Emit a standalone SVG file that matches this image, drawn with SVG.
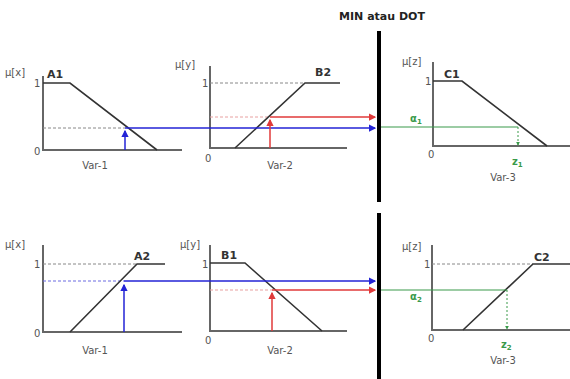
<svg xmlns="http://www.w3.org/2000/svg" width="570" height="379" viewBox="0 0 570 379">
<defs>
<marker id="ab" viewBox="0 0 6 6" refX="5" refY="3" markerWidth="5" markerHeight="5" orient="auto"><path d="M0,0 L6,3 L0,6 Z" fill="#2323d6"/></marker>
<marker id="ar" viewBox="0 0 6 6" refX="5" refY="3" markerWidth="5" markerHeight="5" orient="auto"><path d="M0,0 L6,3 L0,6 Z" fill="#e03a3a"/></marker>
<marker id="ag" viewBox="0 0 6 6" refX="5" refY="3" markerWidth="4" markerHeight="4" orient="auto"><path d="M0,0 L6,3 L0,6 Z" fill="#3a9a4a"/></marker>
</defs>
<style>
.ax{stroke:#666;stroke-width:2;fill:none}
.mf{stroke:#333;stroke-width:1.6;fill:none}
.dg{stroke:#888;stroke-width:1;stroke-dasharray:3,2;fill:none}
.bl{stroke:#2323d6;stroke-width:1.5;fill:none}
.rd{stroke:#e03a3a;stroke-width:1.5;fill:none}
.gr{stroke:#3a9a4a;stroke-width:1.2;fill:none}
.gd{stroke:#3a9a4a;stroke-width:1;stroke-dasharray:2,2;fill:none}
.bar{stroke:#000;stroke-width:4}
text{font-family:"DejaVu Sans",Verdana,sans-serif;font-size:10px;fill:#555}
.nm{font-weight:bold;fill:#333;font-size:11px}
.g{fill:#3a9a4a;font-weight:bold}
.t{font-weight:bold;fill:#222;font-size:11px}
</style>
<rect width="570" height="379" fill="#fff"/>
<text class="t" x="382" y="20" text-anchor="middle">MIN atau DOT</text>
<g id="bars">
<line class="bar" x1="379" y1="31" x2="379" y2="202"/>
<line class="bar" x1="379" y1="213" x2="379" y2="379"/>
</g>
<g id="A1">
<polyline class="ax" points="43,76 43,150 182,150"/>
<line class="dg" x1="43" y1="128" x2="125" y2="128"/>
<polyline class="mf" points="43,83 70,83 157,150"/>
<text x="5" y="76">μ[x]</text><text x="34" y="87">1</text><text x="34" y="155">0</text>
<text class="nm" x="47" y="78">A1</text><text x="95" y="169" text-anchor="middle">Var-1</text>
</g>
<g id="B2">
<polyline class="ax" points="210,66 210,148 347,148"/>
<line class="dg" x1="210" y1="83" x2="305" y2="83"/>
<line class="dg" x1="210" y1="117" x2="268" y2="117" style="stroke:#e8a0a0"/>
<polyline class="mf" points="235,148 305,83 340,83"/>
<text x="175" y="68">μ[y]</text><text x="202" y="87">1</text><text x="205" y="162">0</text>
<text class="nm" x="315" y="76">B2</text><text x="280" y="169" text-anchor="middle">Var-2</text>
</g>
<g id="C1">
<polyline class="ax" points="433,62 433,146 570,146"/>
<polyline class="mf" points="433,81 462,81 547,146"/>
<text x="402" y="65">μ[z]</text><text x="425" y="85">1</text><text x="428" y="158">0</text>
<text class="nm" x="444" y="78">C1</text>
<text class="g" x="410" y="122">α<tspan font-size="7" dy="2">1</tspan></text>
<text class="g" x="512" y="165">z<tspan font-size="7" dy="2">1</tspan></text>
<text x="503" y="181" text-anchor="middle">Var-3</text>
</g>
<g id="A2">
<polyline class="ax" points="43,245 43,332 182,332"/>
<line class="dg" x1="43" y1="264" x2="137" y2="264"/>
<line class="dg" x1="43" y1="281" x2="124" y2="281" style="stroke:#6a6ae0"/>
<polyline class="mf" points="70,332 137,264 165,264"/>
<text x="5" y="248">μ[x]</text><text x="34" y="268">1</text><text x="34" y="337">0</text>
<text class="nm" x="134" y="260">A2</text><text x="95" y="354" text-anchor="middle">Var-1</text>
</g>
<g id="B1">
<polyline class="ax" points="210,245 210,331 347,331"/>
<line class="dg" x1="210" y1="290" x2="272" y2="290" style="stroke:#e8a0a0"/>
<polyline class="mf" points="210,263 245,263 322,331"/>
<text x="180" y="248">μ[y]</text><text x="202" y="268">1</text><text x="205" y="344">0</text>
<text class="nm" x="221" y="259">B1</text><text x="280" y="354" text-anchor="middle">Var-2</text>
</g>
<g id="C2">
<polyline class="ax" points="432,245 432,330 570,330"/>
<line class="dg" x1="432" y1="264" x2="533" y2="264"/>
<polyline class="mf" points="463,330 533,264 570,264"/>
<text x="402" y="250">μ[z]</text><text x="424" y="268">1</text><text x="428" y="342">0</text>
<text class="nm" x="534" y="261">C2</text>
<text class="g" x="410" y="300">α<tspan font-size="7" dy="2">2</tspan></text>
<text class="g" x="501" y="348">z<tspan font-size="7" dy="2">2</tspan></text>
<text x="503" y="364" text-anchor="middle">Var-3</text>
</g>
<g id="connectors">
<line class="bl" x1="125" y1="150" x2="125" y2="131" marker-end="url(#ab)"/>
<line class="bl" x1="125" y1="128" x2="375" y2="128" marker-end="url(#ab)"/>
<line class="rd" x1="270" y1="148" x2="270" y2="120" marker-end="url(#ar)"/>
<line class="rd" x1="270" y1="117" x2="375" y2="117" marker-end="url(#ar)"/>
<line class="gr" x1="381" y1="127" x2="518" y2="127"/>
<line class="gd" x1="518" y1="127" x2="518" y2="145" marker-end="url(#ag)"/>
<line class="bl" x1="124" y1="332" x2="124" y2="285" marker-end="url(#ab)"/>
<line class="bl" x1="124" y1="281" x2="375" y2="281" marker-end="url(#ab)"/>
<line class="rd" x1="272" y1="331" x2="272" y2="293" marker-end="url(#ar)"/>
<line class="rd" x1="272" y1="290" x2="375" y2="290" marker-end="url(#ar)"/>
<line class="gr" x1="381" y1="290" x2="507" y2="290"/>
<line class="gd" x1="507" y1="290" x2="507" y2="329" marker-end="url(#ag)"/>
</g>
</svg>
